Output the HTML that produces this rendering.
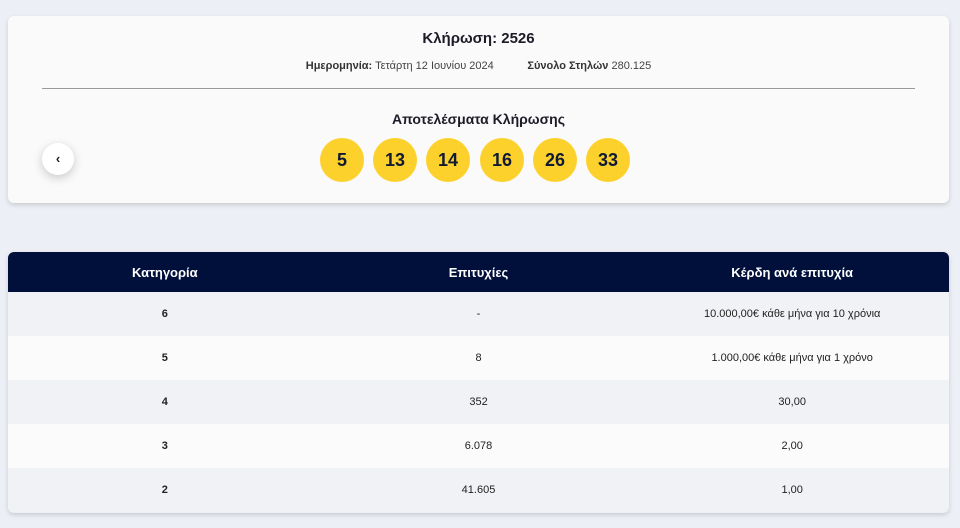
<!DOCTYPE html>
<html><head><meta charset="utf-8"><style>
body{margin:0;width:960px;height:528px;background:#eceff5;font-family:"Liberation Sans","DejaVu Sans",sans-serif;color:#1c1c28;position:relative;overflow:hidden}
.card{position:absolute;left:8px;top:16px;width:941px;height:187px;background:#fafafa;border-radius:6px;box-shadow:0 2px 5px rgba(0,0,0,.15)}
.t1{position:absolute;top:14px;width:100%;text-align:center;font-weight:bold;font-size:15px}
.t2{position:absolute;top:44px;width:100%;text-align:center;font-size:11px;color:#444}
.t2 b{color:#333}
.hr{position:absolute;left:34px;right:34px;top:72px;border-top:1px solid #999}
.t3{position:absolute;top:95px;width:100%;text-align:center;font-weight:bold;font-size:14px}
.ball{position:absolute;top:122px;width:44px;height:44px;border-radius:50%;background:#fdd12c;text-align:center;line-height:44px;font-weight:bold;font-size:18px;color:#111a33}
.btn{position:absolute;left:34px;top:127px;width:32px;height:32px;border-radius:50%;background:#fff;box-shadow:0 3px 10px rgba(0,0,0,.2);text-align:center;line-height:31px;font-size:13px;font-weight:bold}
.tbl{position:absolute;left:8px;top:252px;width:941px;height:261px;border-radius:6px;overflow:hidden;box-shadow:0 2px 5px rgba(0,0,0,.15)}
.row{display:flex;height:44px;align-items:center;font-size:11px;color:#222}
.row div{flex:1;text-align:center}
.hd{height:40px;background:#00103b;color:#fff;font-weight:bold;font-size:13px}
.a{background:#f1f2f5}.b{background:#fbfbfc}
.row div:first-child{font-weight:bold}
</style></head><body>
<div class="card">
<div class="t1">Κλήρωση: 2526</div>
<div class="t2"><b>Ημερομηνία:</b> Τετάρτη 12 Ιουνίου 2024 &nbsp;&nbsp;&nbsp;&nbsp;&nbsp;&nbsp;&nbsp;&nbsp;&nbsp; <b>Σύνολο Στηλών</b> 280.125</div>
<div class="hr"></div>
<div class="t3">Αποτελέσματα Κλήρωσης</div>
<div class="btn">‹</div>
<div class="ball" style="left:312px">5</div>
<div class="ball" style="left:365px">13</div>
<div class="ball" style="left:418px">14</div>
<div class="ball" style="left:472px">16</div>
<div class="ball" style="left:525px">26</div>
<div class="ball" style="left:578px">33</div>
</div>
<div class="tbl">
<div class="row hd"><div>Κατηγορία</div><div>Επιτυχίες</div><div>Κέρδη ανά επιτυχία</div></div>
<div class="row a"><div>6</div><div>-</div><div>10.000,00€ κάθε μήνα για 10 χρόνια</div></div>
<div class="row b"><div>5</div><div>8</div><div>1.000,00€ κάθε μήνα για 1 χρόνο</div></div>
<div class="row a"><div>4</div><div>352</div><div>30,00</div></div>
<div class="row b"><div>3</div><div>6.078</div><div>2,00</div></div>
<div class="row a"><div>2</div><div>41.605</div><div>1,00</div></div>
</div>
</body></html>
